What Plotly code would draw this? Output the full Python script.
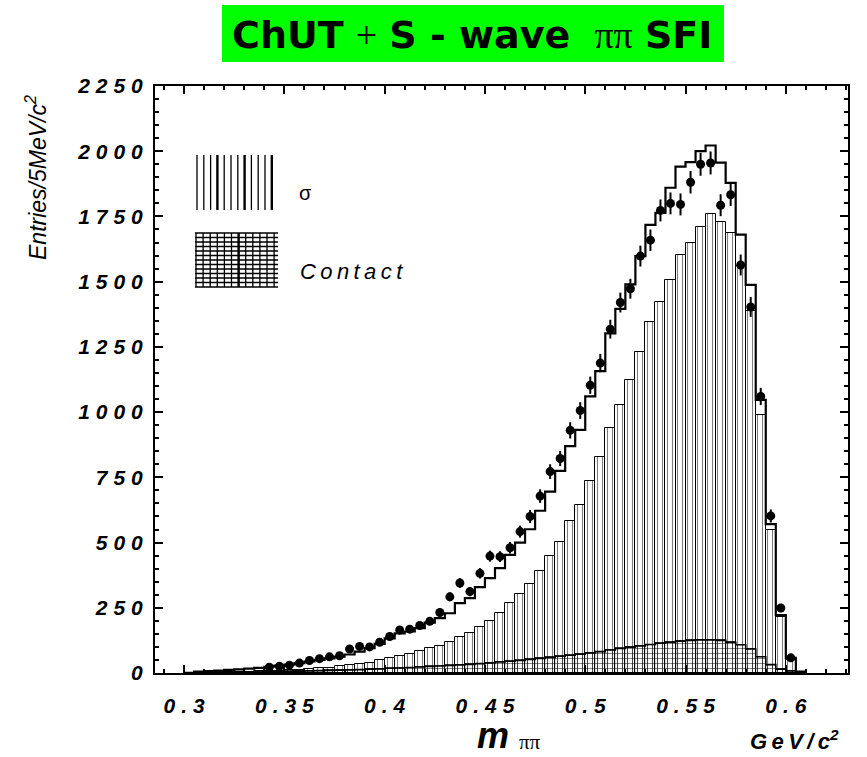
import plotly.graph_objects as go

# ---------------- data ----------------
bin_width = 0.005
bin_centers = [round(0.3025 + 0.005 * i, 4) for i in range(62)]  # 0.3025 ... 0.6075

total_fit = [1, 5, 7, 9, 12, 14, 17, 20, 24, 28, 32, 38, 44, 50, 56, 63, 71, 82, 95, 112,
             133, 152, 159, 172, 193, 210, 229, 268, 287, 329, 364, 402, 453, 500, 551, 622,
             695, 775, 870, 932, 1060, 1157, 1302, 1396, 1490, 1598, 1718, 1764, 1860, 1941,
             1958, 2000, 2022, 1956, 1879, 1680, 1488, 1047, 571, 222, 58, 5]

sigma_comp = [0, 1, 2, 2, 3, 4, 5, 6, 7, 9, 11, 13, 15, 18, 21, 25, 29, 34, 40, 48,
              57, 66, 74, 84, 94, 104, 119, 138, 153, 176, 199, 230, 268, 303, 341, 391,
              449, 503, 582, 643, 737, 828, 939, 1026, 1124, 1232, 1344, 1423, 1505, 1603,
              1649, 1708, 1758, 1728, 1687, 1560, 1389, 989, 548, 213, 50, 2]

contact_comp = [0, 1, 2, 2, 3, 3, 4, 4, 5, 5, 6, 7, 8, 9, 10, 11, 12, 13, 15, 16,
                18, 19, 21, 23, 25, 27, 29, 31, 33, 36, 39, 42, 45, 48, 52, 56,
                60, 64, 68, 72, 77, 82, 88, 94, 99, 104, 109, 114, 118, 122,
                125, 127, 127, 125, 118, 108, 92, 62, 32, 15, 8, 1]

data_centers = bin_centers[8:61]
data_counts = [22, 26, 30, 38, 48, 55, 62, 66, 92, 102, 100, 118, 140, 165, 168, 182, 198,
               232, 292, 345, 312, 382, 448, 446, 480, 542, 600, 678, 772, 822, 930, 1006,
               1103, 1188, 1318, 1420, 1473, 1598, 1659, 1773, 1800, 1796, 1881, 1950, 1955,
               1793, 1833, 1564, 1403, 1060, 602, 249, 58]
data_errors = [5, 5, 6, 6, 7, 7, 8, 8, 10, 10, 10, 11, 12, 13, 13, 14, 14,
               15, 17, 19, 18, 20, 21, 21, 22, 23, 25, 26, 28, 29, 31, 32,
               33, 35, 36, 38, 38, 40, 41, 42, 42, 42, 43, 44, 44,
               42, 43, 40, 38, 33, 25, 16, 8]

y_ticks = [0, 250, 500, 750, 1000, 1250, 1500, 1750, 2000, 2250]
x_ticks = [0.3, 0.35, 0.4, 0.45, 0.5, 0.55, 0.6]
x_tick_labels = ["0.3", "0.35", "0.4", "0.45", "0.5", "0.55", "0.6"]

# ---------------- layout geometry ----------------
W, H = 867, 757
L, R, T, B = 155, 19, 86, 84
PW, PH = W - L - R, H - T - B


def px(x):
    return (x - L) / PW


def py(y):
    return (H - B - y) / PH


def spaced(s, sep="\u2009\u200a"):
    return sep.join(s)


fig = go.Figure()

# sigma component: vertically hatched bars
fig.add_trace(go.Bar(
    x=bin_centers, y=sigma_comp, width=bin_width,
    marker=dict(color="white", line=dict(color="black", width=1),
                pattern=dict(shape="|", size=5, solidity=0.22,
                             fgcolor="black", fillmode="overlay")),
    showlegend=False, hoverinfo="skip"))

# contact component: cross hatched, transparent background
fig.add_trace(go.Bar(
    x=bin_centers, y=contact_comp, width=bin_width,
    marker=dict(color="rgba(0,0,0,0)", line=dict(color="black", width=0.8),
                pattern=dict(shape="+", size=5, solidity=0.18,
                             fgcolor="black", bgcolor="rgba(0,0,0,0)",
                             fillmode="replace")),
    showlegend=False, hoverinfo="skip"))

# step outline of contact
edges = [c - bin_width / 2 for c in bin_centers] + [bin_centers[-1] + bin_width / 2]
fig.add_trace(go.Scatter(
    x=edges, y=contact_comp + [contact_comp[-1]], mode="lines",
    line=dict(color="black", width=1.6, shape="hv"),
    showlegend=False, hoverinfo="skip"))

# total fit: thick step line
fig.add_trace(go.Scatter(
    x=edges, y=total_fit + [total_fit[-1]], mode="lines",
    line=dict(color="black", width=2.2, shape="hv"),
    showlegend=False, hoverinfo="skip"))

# data points with errors
fig.add_trace(go.Scatter(
    x=data_centers, y=data_counts, mode="markers",
    marker=dict(color="black", size=9, symbol="circle"),
    error_y=dict(type="data", array=data_errors, color="black", thickness=2, width=0),
    showlegend=False))

# ---------------- legend swatches (shapes) ----------------
shapes = []
thin, thick = [], []
for k in range(12):
    x = 197 + k * 6.8
    seg = f"M{px(x)},{py(155)} L{px(x)},{py(210)}"
    (thick if k in (3, 7, 11) else thin).append(seg)
shapes.append(dict(type="path", xref="paper", yref="paper", path=" ".join(thin),
                   line=dict(color="black", width=1.3)))
shapes.append(dict(type="path", xref="paper", yref="paper", path=" ".join(thick),
                   line=dict(color="black", width=2.4)))
segs = []
for k in range(12):
    x = 196 + k * 7.1
    segs.append(f"M{px(x)},{py(233)} L{px(x)},{py(287)}")
for j in range(13):
    y = 233 + j * 4.5
    segs.append(f"M{px(195)},{py(y)} L{px(278)},{py(y)}")
shapes.append(dict(type="path", xref="paper", yref="paper", path=" ".join(segs),
                   line=dict(color="black", width=1.3)))
shapes.append(dict(type="path", xref="paper", yref="paper",
                   path=f"M{px(238.6)},{py(233)} L{px(238.6)},{py(287)}",
                   line=dict(color="black", width=2.4)))
shapes.append(dict(type="rect", xref="paper", yref="paper",
                   x0=px(222), x1=px(724), y0=py(62), y1=py(5),
                   fillcolor="#00ff00", line=dict(width=0), layer="below"))


def ann(text, x, y, size, xanchor="center", **kw):
    font = dict(family="Liberation Sans", size=size, color="black")
    font.update(kw.pop("font", {}))
    d = dict(text=text, x=px(x), y=py(y), xref="paper", yref="paper", showarrow=False,
             xanchor=xanchor, yanchor="middle", font=font)
    d.update(kw)
    return d


serif = "<span style='font-family:Liberation Serif'>{}</span>"
annotations = [
    ann("<b>ChUT</b> " + serif.format("+") + " <b>S - wave</b>  " + serif.format("ππ")
        + " <b>SFI</b>", 472, 35, 38, font=dict(family="DejaVu Sans")),
    ann("Entries/5MeV/c<sup>2</sup>", 36, 178, 23, textangle=-90,
        font=dict(style="italic")),
    ann("<b><i>m</i></b>", 493, 735, 36),
    ann(serif.format("ππ"), 530, 742, 21),
    ann("<b><i>" + spaced("GeV/c", "\u2009") + "<sup>2</sup></i></b>", 794, 740, 22),
    ann("σ", 297, 193, 20, xanchor="left"),
    ann("<i>" + spaced("Contact", "\u2009") + "</i>", 298, 271, 22, xanchor="left"),
]

fig.update_layout(
    width=W, height=H, margin=dict(l=L, r=R, t=T, b=B, autoexpand=False),
    paper_bgcolor="white", plot_bgcolor="white",
    barmode="overlay", bargap=0,
    shapes=shapes, annotations=annotations,
    xaxis=dict(range=[0.2855, 0.631], showgrid=False, zeroline=False, automargin=False,
               showline=True, linewidth=2, linecolor="black", mirror="ticks",
               ticks="inside", ticklen=8, tickwidth=2, tickcolor="black",
               tickvals=x_ticks, ticktext=[spaced(t) for t in x_tick_labels],
               ticklabelstandoff=13,
               tickfont=dict(family="Liberation Sans", size=21, color="black",
                             weight="bold", style="italic"),
               minor=dict(dtick=0.01, tick0=0.3, ticks="inside", ticklen=4,
                          tickwidth=1.5, tickcolor="black")),
    yaxis=dict(range=[0, 2250], showgrid=False, zeroline=False, automargin=False,
               showline=True, linewidth=2, linecolor="black", mirror="ticks",
               ticks="inside", ticklen=8, tickwidth=2, tickcolor="black",
               tickvals=y_ticks, ticktext=[spaced(str(v)) for v in y_ticks],
               ticklabelstandoff=6,
               tickfont=dict(family="Liberation Sans", size=21, color="black",
                             weight="bold", style="italic"),
               minor=dict(dtick=50, ticks="inside", ticklen=4,
                          tickwidth=1.5, tickcolor="black")),
)

fig.write_html("out.html", config={"displayModeBar": False},
               post_script="document.body.style.margin='0px';")
